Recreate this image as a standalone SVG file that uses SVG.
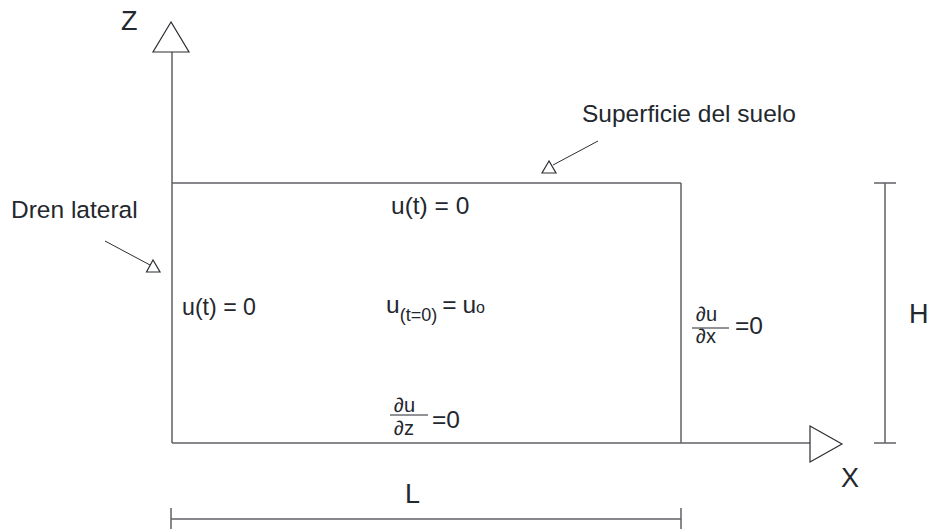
<svg xmlns="http://www.w3.org/2000/svg" width="936" height="529" viewBox="0 0 936 529">
<style>
.ln{stroke:#5f6166;stroke-width:1.5;fill:none}
.ar{fill:#fff;stroke:#2b2e33;stroke-width:1.2}
.t{font-family:"Liberation Sans",Arial,sans-serif;fill:#23272e}
.big{font-size:27px}
.lab{font-size:24.5px}
.eq{font-size:20px}
.sub{font-size:18px}
</style>
<rect width="936" height="529" fill="#fff"/>
<g id="connectors">
<line class="ln" x1="172" y1="443" x2="172" y2="52"/>
<line class="ln" x1="172" y1="443" x2="810" y2="443"/>
<line class="ln" x1="172" y1="183" x2="681" y2="183"/>
<line class="ln" x1="681" y1="183" x2="681" y2="443"/>
<line class="ln" x1="885" y1="183" x2="885" y2="443"/>
<line class="ln" x1="874" y1="183" x2="896" y2="183"/>
<line class="ln" x1="874" y1="443" x2="896" y2="443"/>
<line class="ln" x1="171" y1="519" x2="681" y2="519"/>
<line class="ln" x1="171" y1="508" x2="171" y2="529"/>
<line class="ln" x1="681" y1="508" x2="681" y2="529"/>
<line x1="105" y1="241" x2="150" y2="265" stroke="#2b2e33" stroke-width="1"/>
<line x1="598" y1="141" x2="553" y2="165" stroke="#2b2e33" stroke-width="1"/>
<polygon class="ar" points="171,22 153,52 189,52"/>
<polygon class="ar" points="810,426 842,444 810,462"/>
<polygon class="ar" stroke-width="1" points="153,260 146.5,272 160,272"/>
<polygon class="ar" stroke-width="1" points="549,161 542,173 556,173"/>
</g>
<g id="axis-z"><text class="t big" x="121" y="30">Z</text></g>
<g id="axis-x"><text class="t big" x="841" y="487">X</text></g>
<g id="dim-h"><text class="t big" x="909" y="323">H</text></g>
<g id="dim-l"><text class="t big" x="405" y="503">L</text></g>
<g id="label-superficie"><text class="t lab" x="582" y="122">Superficie del suelo</text></g>
<g id="label-dren"><text class="t lab" x="11" y="218">Dren lateral</text></g>
<g id="bc-top"><text class="t lab" x="391" y="214">u(t) = 0</text></g>
<g id="bc-left"><text class="t lab" x="182" y="315" textLength="74" lengthAdjust="spacingAndGlyphs">u(t) = 0</text></g>
<g id="ic-center">
<text class="t lab" x="386" y="313">u<tspan class="sub" dy="8">(t=0)</tspan><tspan dx="5" dy="-8">=</tspan><tspan dx="6">u</tspan><tspan font-size="16px">o</tspan></text>
</g>
<g id="bc-right">
<text class="t eq" x="696" y="321">∂u</text>
<line x1="692" y1="328" x2="729" y2="328" stroke="#23272e" stroke-width="1"/>
<text class="t eq" x="696" y="343">∂x</text>
<text class="t lab" x="735" y="334">=0</text>
</g>
<g id="bc-bottom">
<text class="t eq" x="394" y="412">∂u</text>
<line x1="390" y1="415" x2="428" y2="415" stroke="#23272e" stroke-width="1"/>
<text class="t eq" x="394" y="435">∂z</text>
<text class="t lab" x="432" y="428">=0</text>
</g>
</svg>
